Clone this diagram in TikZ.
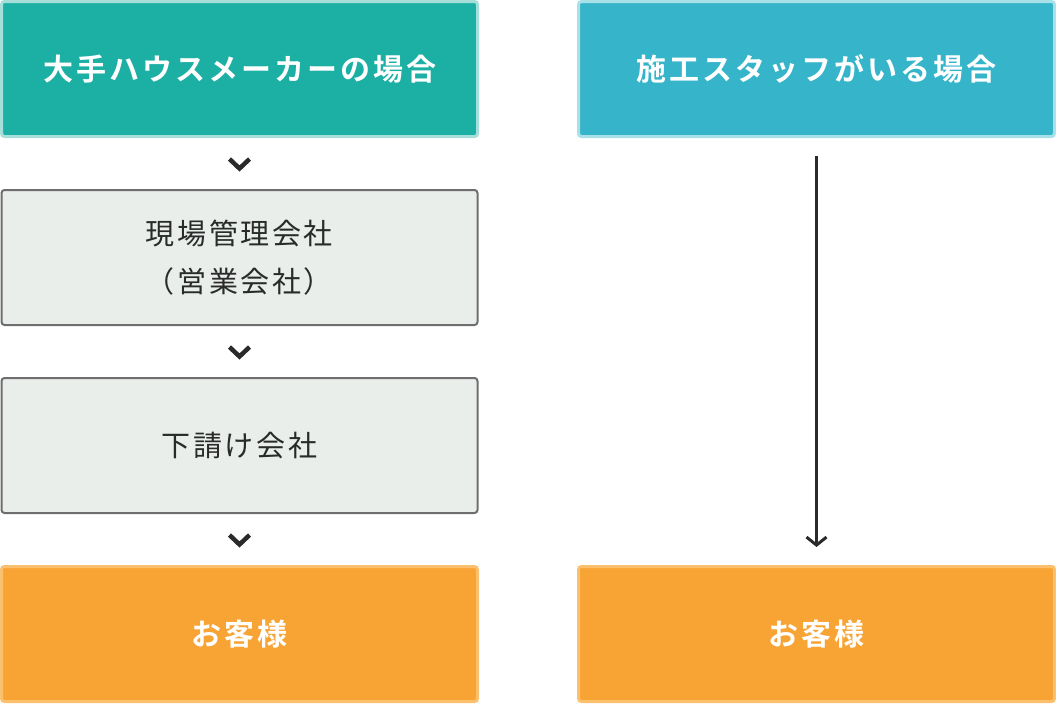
\documentclass[tikz,border=0pt]{standalone}
\usepackage{fontspec}
\setmainfont{Noto Sans CJK JP}[LetterSpace=9]
\newfontfamily\jpbold{Noto Sans CJK JP Bold}[LetterSpace=10]
\usepackage{xcolor}
\usetikzlibrary{arrows.meta,positioning}
\definecolor{tealfill}{HTML}{1CAFA4}
\definecolor{tealline}{HTML}{A6DFDA}
\definecolor{bluefill}{HTML}{36B5CA}
\definecolor{blueline}{HTML}{A9E1E9}
\definecolor{orgfill}{HTML}{F8A434}
\definecolor{orgline}{HTML}{FBC06E}
\definecolor{grayfill}{HTML}{E9EEEB}
\definecolor{grayline}{HTML}{6E6E6E}
\definecolor{ink}{HTML}{2A2A2A}

\begin{document}
\begin{tikzpicture}[
  x=1pt,y=1pt,
  node distance=51pt and 98pt,
  box/.style={draw,rounded corners=3pt,align=center,minimum width=476pt,
              minimum height=135pt,inner sep=0pt,font=\fontsize{29}{48}\selectfont},
  head/.style={box,line width=3pt,text=white,font=\fontsize{30}{48}\selectfont\jpbold},
  maker/.style={head,fill=tealfill,draw=tealline},
  staff/.style={head,fill=bluefill,draw=blueline},
  client/.style={head,fill=orgfill,draw=orgline},
  firm/.style={box,line width=2pt,fill=grayfill,draw=grayline,text=ink},
  chev/.style={draw=ink,line width=4.5pt,line cap=butt,line join=miter},
  flow/.style={-{Straight Barb[length=8pt,width=20pt]},draw=ink,line width=3pt}
]
\useasboundingbox (0,0) rectangle (1056,-704);
\node[maker,anchor=north west] (maker) at (0,0) {大手ハウスメーカーの場合};
\node[firm,below=of maker] (site) {現場管理会社\\（営業会社）};
\node[firm,below=of site] (sub) {下請け会社};
\node[client,below=of sub] (cust1) {お客様};
\node[staff,right=of maker] (staff) {施工スタッフがいる場合};
\node[client,right=of cust1] (cust2) {お客様};
\foreach \a/\b in {maker/site,site/sub,sub/cust1}{
  \path (\a.south) -- coordinate[midway] (m) (\b.north);
  \draw[chev] ([shift={(-10,4.5)}]m) -- ([yshift=-5]m) -- ([shift={(10,4.5)}]m);
}
\draw[flow] ([yshift=-18]staff.south) -- ([yshift=18]cust2.north);
\end{tikzpicture}
\end{document}
